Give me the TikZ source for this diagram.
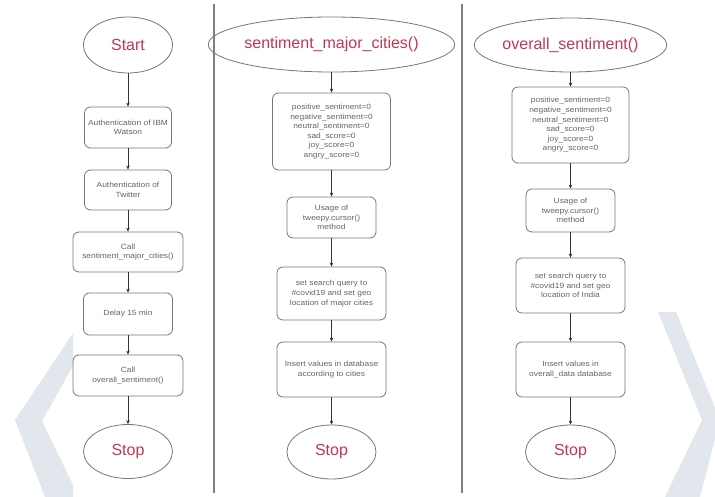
\documentclass[tikz,border=0pt]{standalone}
\usepackage{xcolor}
\usepackage{fontspec}
\setmainfont{Liberation Sans}
\newfontfamily\boxfont[FakeStretch=1.12]{Liberation Sans}
\usepackage{tikz}
\usetikzlibrary{arrows.meta}
\usetikzlibrary{shapes.geometric}

\definecolor{termred}{RGB}{192,56,80}
\definecolor{edgegray}{RGB}{118,118,118}
\definecolor{textgray}{RGB}{100,100,100}
\definecolor{markblue}{RGB}{225,231,237}

\tikzset{
    termnode/.style={ellipse, draw=edgegray, line width=0.8pt, inner sep=0pt,
        text=termred, font=\fontsize{16}{18}\selectfont},
    procbox/.style={rectangle, rounded corners=6pt, draw=edgegray, line width=0.8pt,
        inner sep=0pt, align=center, text=textgray,
        font=\boxfont\fontsize{7.5}{9.6}\selectfont},
    flow/.style={-{Stealth[length=4pt,width=3.5pt]}, draw=black!80, line width=0.6pt},
}

\begin{document}
\begin{tikzpicture}[x=1pt, y=-1pt]
    \useasboundingbox (0,0) rectangle (715,497);
    \fill[markblue] (73,333) -- (15,420) -- (45,497) -- (73,497) -- (73,485) -- (42,421) -- (73,366) -- cycle;
    \begin{scope}
        \clip (0,0) rectangle (715,497);
        \fill[markblue] (658,312) -- (676,312) -- (720,420) -- (700,497) -- (665,497) -- (702,420) -- cycle;
    \end{scope}
    \draw[gray, line width=1.2pt] (214,4) -- (214,493);
    \draw[gray, line width=1.2pt] (462,4) -- (462,493);

    \node[termnode, minimum width=89pt, minimum height=56pt] (start) at (128,45) {Start};
    \node[procbox, minimum width=87pt, minimum height=41pt] (authibm) at (128,127.5) {Authentication of IBM\\Watson};
    \node[procbox, minimum width=87pt, minimum height=40pt] (authtw) at (128,190) {Authentication of\\Twitter};
    \node[procbox, minimum width=110pt, minimum height=40pt] (callmajor) at (128,252) {Call\\sentiment\_major\_cities()};
    \node[procbox, minimum width=89pt, minimum height=42pt] (delay) at (128,314) {Delay 15 min};
    \node[procbox, minimum width=110pt, minimum height=41pt] (calloverall) at (128,375.5) {Call\\overall\_sentiment()};
    \node[termnode, minimum width=89pt, minimum height=54pt] (stopa) at (128,451.5) {Stop};

    \node[termnode, minimum width=203pt, minimum height=55pt] (majorhead) at (331.5,44.5) {sentiment\_major\_cities()};
    \node[procbox, minimum width=118pt, minimum height=77pt] (majorvars) at (331.5,131.5) {positive\_sentiment=0\\negative\_sentiment=0\\neutral\_sentiment=0\\sad\_score=0\\joy\_score=0\\angry\_score=0};
    \node[procbox, minimum width=89pt, minimum height=41pt] (majorusage) at (331.5,217.5) {Usage of\\tweepy.cursor()\\method};
    \node[procbox, minimum width=109pt, minimum height=53pt] (majorquery) at (331.5,293.5) {set search query to\\\#covid19 and set geo\\location of major cities};
    \node[procbox, minimum width=109pt, minimum height=55pt] (majorinsert) at (331.5,369.5) {Insert values in database\\according to cities};
    \node[termnode, minimum width=89pt, minimum height=54pt] (stopb) at (331.5,452) {Stop};

    \node[termnode, minimum width=174pt, minimum height=54pt] (overallhead) at (570.5,45) {overall\_sentiment()};
    \node[procbox, minimum width=117pt, minimum height=76pt] (overallvars) at (570.5,125) {positive\_sentiment=0\\negative\_sentiment=0\\neutral\_sentiment=0\\sad\_score=0\\joy\_score=0\\angry\_score=0};
    \node[procbox, minimum width=89pt, minimum height=43pt] (overallusage) at (570.5,210.5) {Usage of\\tweepy.cursor()\\method};
    \node[procbox, minimum width=109pt, minimum height=55pt] (overallquery) at (570.5,285.5) {set search query to\\\#covid19 and set geo\\location of India};
    \node[procbox, minimum width=109pt, minimum height=55pt] (overallinsert) at (570.5,369.5) {Insert values in\\overall\_data database};
    \node[termnode, minimum width=90pt, minimum height=54pt] (stopc) at (570.5,452) {Stop};

    \draw[flow] (start) -- (authibm);
    \draw[flow] (authibm) -- (authtw);
    \draw[flow] (authtw) -- (callmajor);
    \draw[flow] (callmajor) -- (delay);
    \draw[flow] (delay) -- (calloverall);
    \draw[flow] (calloverall) -- (stopa);

    \draw[flow] (majorhead) -- (majorvars);
    \draw[flow] (majorvars) -- (majorusage);
    \draw[flow] (majorusage) -- (majorquery);
    \draw[flow] (majorquery) -- (majorinsert);
    \draw[flow] (majorinsert) -- (stopb);

    \draw[flow] (overallhead) -- (overallvars);
    \draw[flow] (overallvars) -- (overallusage);
    \draw[flow] (overallusage) -- (overallquery);
    \draw[flow] (overallquery) -- (overallinsert);
    \draw[flow] (overallinsert) -- (stopc);
\end{tikzpicture}
\end{document}
